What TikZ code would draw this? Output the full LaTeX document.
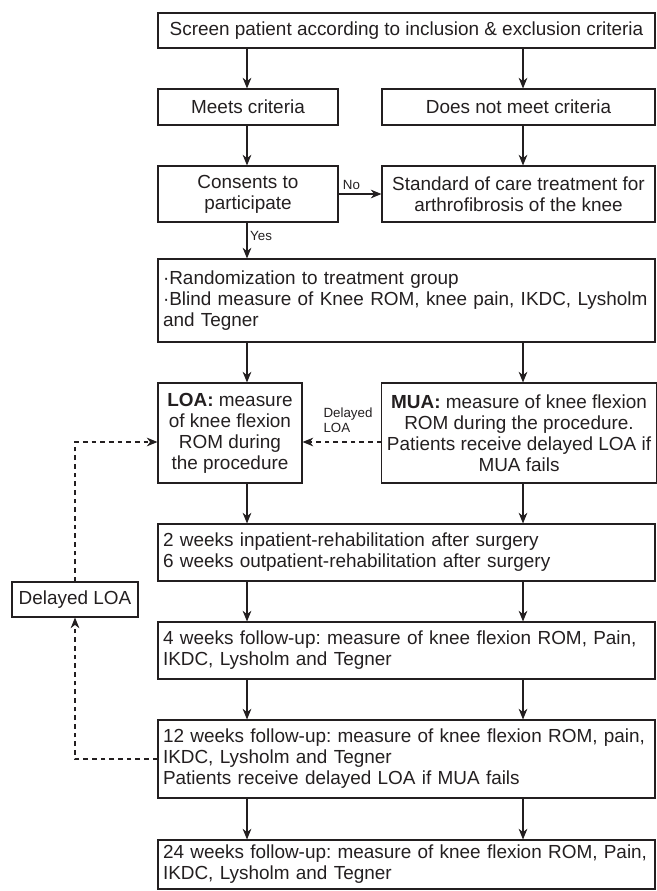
\documentclass[tikz,border=0pt]{standalone}
\usepackage{fontspec}
\setmainfont{Liberation Sans}
\usetikzlibrary{arrows.meta, positioning}

\definecolor{ink}{HTML}{231F20}
\frenchspacing

\begin{document}
\begin{tikzpicture}[x=0.75pt, y=-0.75pt,
		box/.style={draw=ink, line width=0.8pt, inner sep=3.75pt, text=ink,
			font=\fontsize{14.2}{15.75}\selectfont, align=center},
		widebox/.style={box, align=left, text width=365.25pt, minimum width=372.75pt},
		arr/.style={draw=ink, line width=0.8pt, -{Stealth[length=8pt, width=6.5pt, inset=2.5pt]}},
		dashline/.style={dash pattern=on 3.5pt off 3pt},
		lbl/.style={text=ink, inner sep=0pt, font=\fontsize{10}{11.25}\selectfont}]
		\useasboundingbox (0,0) rectangle (656,891);
		
		% columns of the arrows
		\coordinate (cl) at (247,0);
		\coordinate (cr) at (523,0);
		
		\node [box, minimum width=372.75pt, minimum height=26.25pt] (screen) at (406.5,30.5)
			{Screen patient according to inclusion \& exclusion criteria};
		
		\node [box, minimum width=135pt, minimum height=27pt] (meets) at (248,107) {Meets criteria};
		\node [box, minimum width=204.75pt, minimum height=27pt] (notmeet) at (518.5,107) {Does not meet criteria};
		
		\node [box, minimum width=135pt, minimum height=42pt] (consent) at (248,194) {Consents to\\participate};
		\node [box, minimum width=204.75pt, minimum height=42pt] (standard) at (518.5,194)
			{Standard of care treatment for\\arthrofibrosis of the knee};
		
		\node [widebox, minimum height=62.25pt] (random) at (406.5,300.5)
			{·Randomization to treatment group\\·Blind measure of Knee ROM, knee pain, IKDC, Lysholm\\and Tegner};
		
		\node [box, minimum width=108pt, minimum height=75pt] (loa) at (230,433)
			{\textbf{LOA:} measure\\of knee flexion\\ROM during\\the procedure};
		\node [box, minimum width=204pt, minimum height=75pt] (mua) at (519,433)
			{\textbf{MUA:} measure of knee flexion\\ROM during the procedure.\\Patients receive delayed LOA if\\MUA fails};
		
		\node [widebox, minimum height=42.75pt] (rehab) at (406.5,552.5)
			{2 weeks inpatient-rehabilitation after surgery\\6 weeks outpatient-rehabilitation after surgery};
		\node [widebox, minimum height=42.75pt] (fu4) at (406.5,650.5)
			{4 weeks follow-up: measure of knee flexion ROM, Pain,\\IKDC, Lysholm and Tegner};
		\node [widebox, minimum height=58.5pt] (fu12) at (406.5,759)
			{12 weeks follow-up: measure of knee flexion ROM, pain,\\IKDC, Lysholm and Tegner\\Patients receive delayed LOA if MUA fails};
		\node [widebox, minimum height=36.75pt] (fu24) at (406.5,864.5)
			{24 weeks follow-up: measure of knee flexion ROM, Pain,\\IKDC, Lysholm and Tegner};
		
		\node [box, minimum width=94.5pt, minimum height=26.25pt] (delayed) at (75,599.5) {Delayed LOA};
		
		% main flow
		\draw [arr] (screen.south -| cl) -- (meets.north -| cl);
		\draw [arr] (screen.south -| cr) -- (notmeet.north -| cr);
		\draw [arr] (meets.south -| cl) -- (consent.north -| cl);
		\draw [arr] (notmeet.south -| cr) -- (standard.north -| cr);
		\draw [arr] (consent.east) -- (standard.west) node [lbl, pos=0.3, above=3pt] {No};
		\draw [arr] (consent.south -| cl) -- (random.north -| cl) node [lbl, pos=0.38, right=2pt] {Yes};
		\draw [arr] (random.south -| cl) -- (loa.north -| cl);
		\draw [arr] (random.south -| cr) -- (mua.north -| cr);
		\draw [arr] (loa.south -| cl) -- (rehab.north -| cl);
		\draw [arr] (mua.south -| cr) -- (rehab.north -| cr);
		\draw [arr] (rehab.south -| cl) -- (fu4.north -| cl);
		\draw [arr] (rehab.south -| cr) -- (fu4.north -| cr);
		\draw [arr] (fu4.south -| cl) -- (fu12.north -| cl);
		\draw [arr] (fu4.south -| cr) -- (fu12.north -| cr);
		\draw [arr] (fu12.south -| cl) -- (fu24.north -| cl);
		\draw [arr] (fu12.south -| cr) -- (fu24.north -| cr);
		
		% delayed LOA
		\coordinate (dl) at (75,442);
		\coordinate (d12) at (75,759);
		\draw [arr, dashline] (mua.west |- dl) -- (loa.east |- dl)
			node [lbl, align=left, pos=0.74, anchor=south west, yshift=7pt] {Delayed\\LOA};
		\draw [arr, dashline] (fu12.west |- d12) -- (d12) -- (delayed.south);
		\draw [arr, dashline] (delayed.north) -- (dl) -- (loa.west |- dl);
	\end{tikzpicture}
\end{document}
